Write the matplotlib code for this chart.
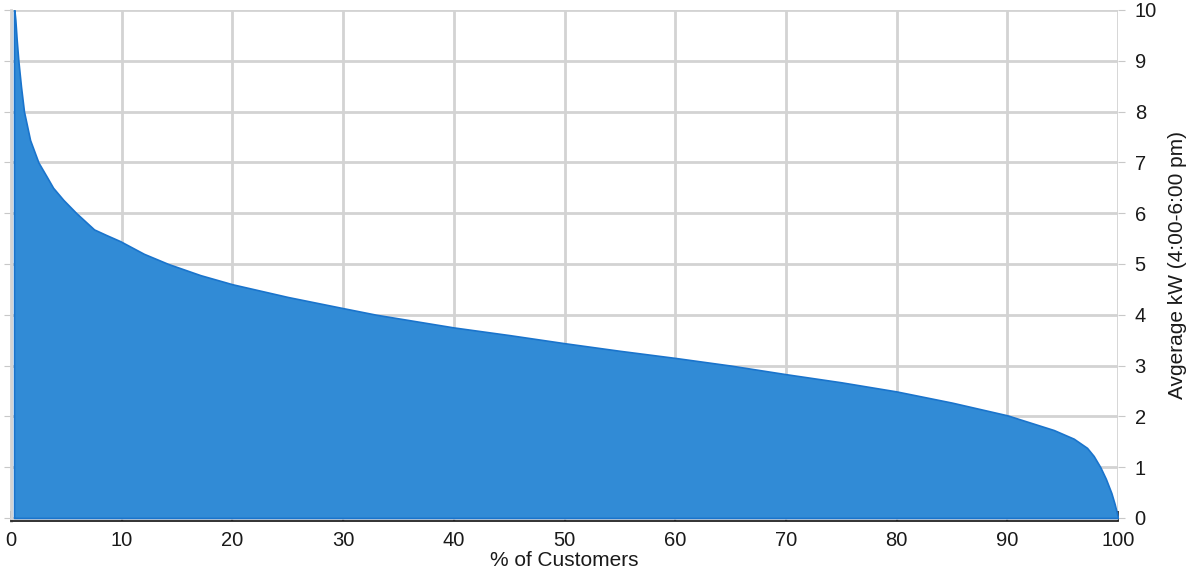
import numpy as np
import matplotlib.pyplot as plt

plt.rcParams['font.family'] = ['Liberation Sans', 'DejaVu Sans']

# share of customers (%) vs. average kW
pct = [0.27, 0.3, 0.39, 0.51, 0.66, 0.9, 1.17, 1.72, 2.47, 3.22, 3.8,
       4.73, 5.9, 7.5, 8.6, 9.85, 12.0, 14.2, 17.1, 20, 25, 30, 33, 40, 45,
       50, 55, 60, 65, 70, 75, 80, 85, 90, 94.2, 96, 97.2, 97.8, 98.4, 98.9,
       99.4, 99.7, 100]
kw = [10.0, 10.0, 9.8, 9.41, 9.0, 8.49, 8.0, 7.44, 7.0, 6.72, 6.5,
      6.26, 6.0, 5.68, 5.57, 5.45, 5.2, 5.0, 4.78, 4.6, 4.35, 4.13, 4.0, 3.75,
      3.6, 3.44, 3.29, 3.15, 3.0, 2.83, 2.67, 2.49, 2.27, 2.02, 1.73, 1.56,
      1.38, 1.22, 1.0, 0.77, 0.49, 0.27, 0.0]

xticks = np.arange(0, 101, 10)
yticks = np.arange(0, 11, 1)

fig = plt.figure(figsize=(11.88, 5.71), dpi=100)
ax = fig.add_axes([0.0093, 0.0876, 0.9318, 0.8949])

ax.fill_between(pct, kw, 0, color='#318bd6', edgecolor='#1a74cc', linewidth=1.2, zorder=2)

ax.set_xlim(0, 100)
ax.set_ylim(-0.06, 10)
ax.set_xticks(xticks)
ax.set_yticks(yticks)
ax.grid(True, color='#d3d3d3', linewidth=2, zorder=0)
ax.set_axisbelow(True)

ax.yaxis.tick_right()
ax.yaxis.set_label_position('right')
ax.tick_params(axis='y', which='both', right=True, left=True, direction='out',
               length=5, color='#c8c8c8', labelsize=14.5, pad=7, labelcolor='#1a1a1a')
ax.tick_params(axis='x', direction='in', length=7, color='#222222', width=1.2,
               labelsize=14.5, pad=7, labelcolor='#1a1a1a')

ax.spines['top'].set_visible(False)
ax.spines['right'].set_visible(False)
ax.spines['left'].set_color('#d3d3d3')
ax.spines['left'].set_linewidth(2)
ax.spines['bottom'].set_color('#222222')
ax.spines['bottom'].set_linewidth(1.3)

ax.set_xlabel('% of Customers', fontsize=15, labelpad=1, color='#1a1a1a')
ax.set_ylabel('Avgerage kW (4:00-6:00 pm)', fontsize=15, labelpad=8, color='#1a1a1a')

fig.savefig('out.png', dpi=100)
